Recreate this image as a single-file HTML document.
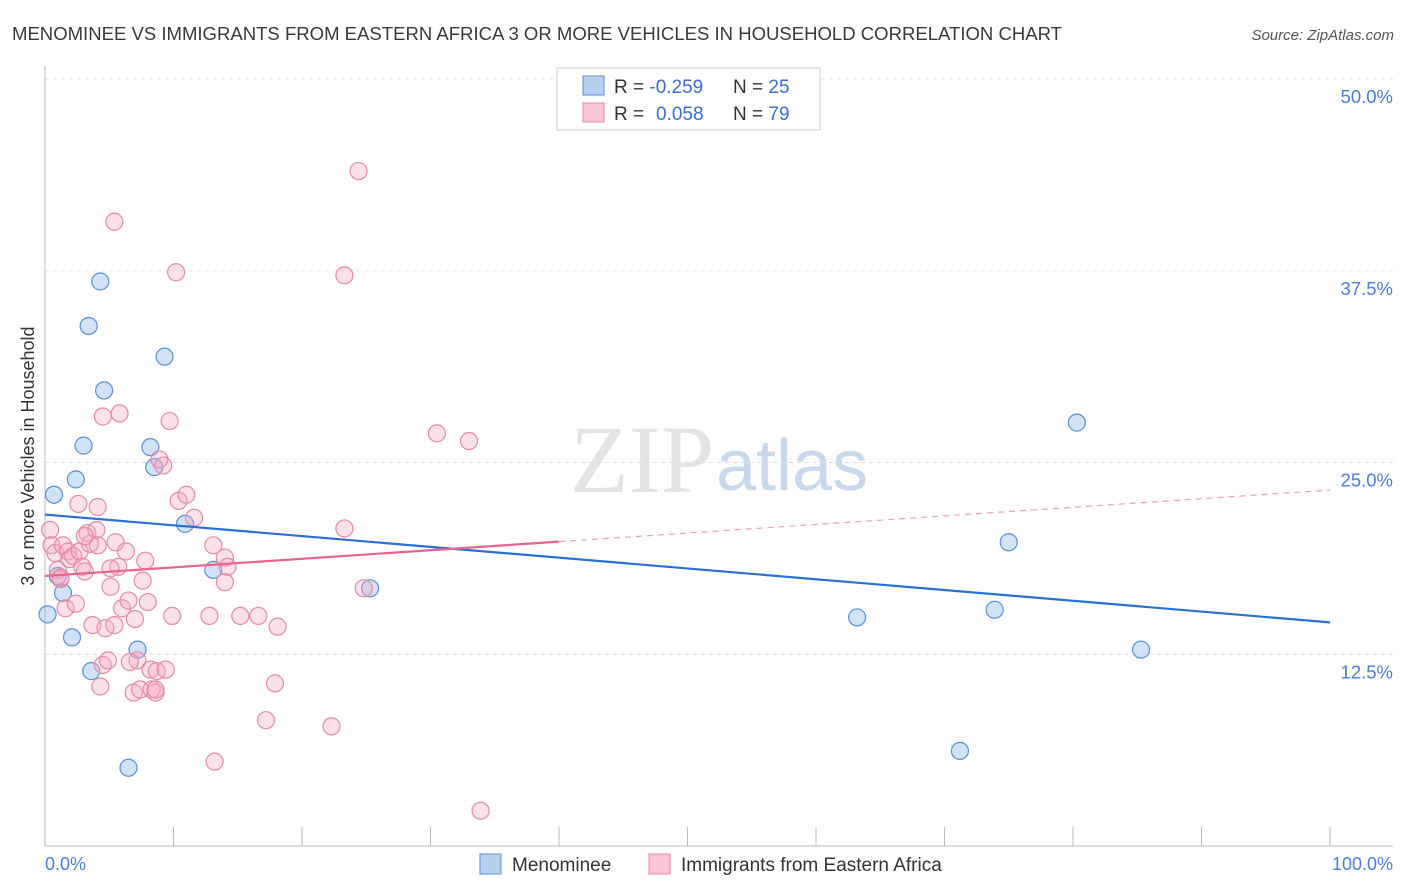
<!DOCTYPE html>
<html><head><meta charset="utf-8"><style>
body{margin:0;background:#fff;font-family:"Liberation Sans",sans-serif;}
svg{display:block}
</style></head><body>
<svg id="c" width="1406" height="892">
<text x="12" y="40" font-size="18" fill="#3a3a3a" textLength="1050" lengthAdjust="spacingAndGlyphs">MENOMINEE VS IMMIGRANTS FROM EASTERN AFRICA 3 OR MORE VEHICLES IN HOUSEHOLD CORRELATION CHART</text>
<text x="1394" y="40" font-size="15" font-style="italic" fill="#555" text-anchor="end">Source: ZipAtlas.com</text>
<text x="714" y="492" font-size="96" font-family="Liberation Serif,serif" fill="#e4e4e4" text-anchor="end">ZIP</text>
<text x="716" y="490" font-size="72" fill="#c8d8ee">atlas</text>
<text transform="translate(34,456) rotate(-90)" font-size="18" fill="#333" text-anchor="middle">3 or more Vehicles in Household</text>
<g id="grid"></g><g id="marks"></g>
<g>
<rect x="557" y="68" width="263" height="62" fill="#fff" stroke="#ccc"/>
<rect x="583" y="76" width="21" height="19" fill="#b8d0f0" stroke="#5b8fd6"/>
<rect x="583" y="103" width="21" height="19" fill="#f8c6d6" stroke="#e68aa8"/>
<text x="614" y="93" font-size="19" fill="#333">R = <tspan fill="#3a6fcf">-0.259</tspan><tspan x="733">N = </tspan><tspan fill="#3a6fcf">25</tspan></text>
<text x="614" y="120" font-size="19" fill="#333">R = <tspan fill="#3a6fcf" x="656">0.058</tspan><tspan x="733">N = </tspan><tspan fill="#3a6fcf">79</tspan></text>
</g>
<g>
<rect x="480" y="854" width="21" height="20" fill="#b8d0f0" stroke="#5b8fd6"/>
<text x="512" y="871" font-size="19" fill="#333">Menominee</text>
<rect x="649" y="854" width="21" height="20" fill="#f8c6d6" stroke="#e68aa8"/>
<text x="681" y="871" font-size="19" fill="#333">Immigrants from Eastern Africa</text>
</g>
<text x="45" y="870" font-size="18" fill="#4a7fd6">0.0%</text>
<text x="1393" y="870" font-size="18" fill="#4a7fd6" text-anchor="end">100.0%</text>
</svg>
<script>
const yTicks=[12.5,25,37.5,50];
const yTickLabels=["12.5%","25.0%","37.5%","50.0%"];
const xTicks=[0,10,20,30,40,50,60,70,80,90,100];
const blueX=[0.2,0.7,1,1.4,2.1,2.4,3,3.4,3.6,4.3,4.6,6.5,7.2,8.2,8.5,9.3,10.9,13.1,25.3,63.2,71.2,73.9,75,80.3,85.3];
const blueY=[15.1,22.9,17.6,16.5,13.6,23.9,26.1,33.9,11.4,36.8,29.7,5.1,12.8,26,24.7,31.9,21,18,16.8,14.9,6.2,15.4,19.8,27.6,12.8];
const pinkX=[0.4,0.5,0.8,1,1.2,1.4,1.6,1.8,1.9,2.2,2.4,2.6,2.7,2.9,3.1,3.3,3.5,3.7,4,4.1,4.3,4.5,4.5,4.7,4.9,5.1,5.4,5.5,5.7,5.8,6,6.3,6.5,6.9,7,7.2,7.4,7.6,7.8,8,8.2,8.3,8.6,8.7,8.9,9.2,9.4,9.7,9.9,10.2,10.4,11,11.6,12.8,13.1,13.2,14,14.2,14,15.2,17.2,16.6,17.9,18.1,22.3,23.3,23.3,24.8,24.4,30.5,33,33.9,5.4,4.1,1.2,5.1,6.6,8.6,3.1];
const pinkY=[20.6,19.6,19.1,18,17.4,19.6,15.5,19.2,18.7,18.9,15.8,22.3,19.2,18.2,17.9,20.4,19.7,14.4,20.6,22.1,10.4,28,11.8,14.2,12.1,16.9,14.4,19.8,18.2,28.2,15.5,19.2,16,10,14.8,12.1,10.2,17.3,18.6,15.9,11.5,10.2,10,11.4,25.2,24.8,11.5,27.7,15,37.4,22.5,22.9,21.4,15,19.6,5.5,18.8,18.2,17.2,15,8.2,15,10.6,14.3,7.8,20.7,37.2,16.8,44.0,26.9,26.4,2.3,40.7,19.6,17.5,18.1,12,10.2,20.2];
const X=v=>45+v*12.85, Y=v=>846-v*15.34;
const ns="http://www.w3.org/2000/svg";
function mk(t,a,p){const e=document.createElementNS(ns,t);for(const k in a)e.setAttribute(k,a[k]);p.appendChild(e);return e;}
const g=document.getElementById('grid'), m=document.getElementById('marks');
yTicks.forEach((t,i)=>{
 const l=mk('line',{x1:45,x2:1393,y1:Y(t),y2:Y(t),stroke:'#ddd','stroke-dasharray':'4,4'},g);
 
 
 const tx=mk('text',{x:1393,y:Y(t)+24,'font-size':18.5,fill:'#4a7fd6','text-anchor':'end'},g);tx.textContent=yTickLabels[i];
 
 
});
mk('line',{x1:45,x2:45,y1:66,y2:846,stroke:'#bbb'},g);
mk('line',{x1:45,x2:1393,y1:846,y2:846,stroke:'#bbb'},g);
xTicks.forEach(t=>{const l=mk('line',{x1:X(t),x2:X(t),y1:827,y2:846,stroke:'#bbb'},g);
 
 });
blueX.forEach((x,i)=>{const c=mk('circle',{cx:X(x),cy:Y(blueY[i]),r:8.5,fill:'rgba(150,190,240,0.45)',stroke:'#5b8fd6','stroke-width':1.2},m);
 
 });
pinkX.forEach((x,i)=>{const c=mk('circle',{cx:X(x),cy:Y(pinkY[i]),r:8.5,fill:'rgba(245,170,195,0.35)',stroke:'#e68aa8','stroke-width':1.2},m);
 
 });
function fit(xs,ys){const n=xs.length,mx=xs.reduce((a,b)=>a+b)/n,my=ys.reduce((a,b)=>a+b)/n;let sxy=0,sxx=0;xs.forEach((x,i)=>{sxy+=(x-mx)*(ys[i]-my);sxx+=(x-mx)**2});const b=sxy/sxx;return [my-b*mx,b];}
const [ba,bb]=fit(blueX,blueY);
let l=mk('line',{x1:X(0),y1:Y(ba),x2:X(100),y2:Y(ba+bb*100),stroke:'#2a6fd6','stroke-width':2.2},m);


const [pa,pb]=fit(pinkX,pinkY);
l=mk('line',{x1:X(0),y1:Y(pa),x2:X(40),y2:Y(pa+pb*40),stroke:'#e8648e','stroke-width':2.2},m);


l=mk('line',{x1:X(40),y1:Y(pa+pb*40),x2:X(100),y2:Y(pa+pb*100),stroke:'#e8a0b8','stroke-width':1.2,'stroke-dasharray':'6,5'},m);


</script>
</body></html>
